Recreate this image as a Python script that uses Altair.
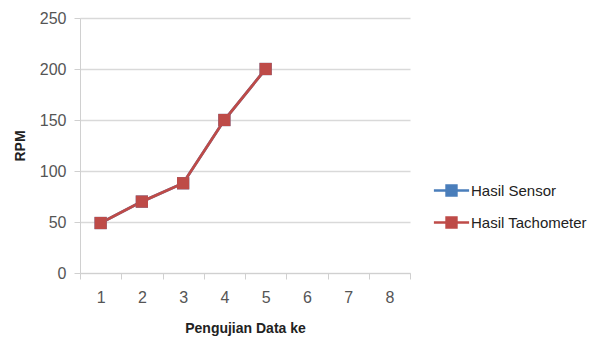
import altair as alt
import pandas as pd

categories = [1, 2, 3, 4, 5, 6, 7, 8]
sensor = [49, 70, 88, 150, 200]
tacho = [49, 70, 88, 150, 200]
series_names = ["Hasil Sensor", "Hasil Tachometer"]
colors = ["#4A7EBB", "#BE4B48"]

rows = []
for name, vals in zip(series_names, [sensor, tacho]):
    for c, v in zip(categories, vals):
        rows.append({"Data": str(c), "RPM": v, "Seri": name})
df = pd.DataFrame(rows)

FONT = "Liberation Sans"

x = alt.X("Data:O", sort=[str(c) for c in categories],
          scale=alt.Scale(type="band", domain=[str(c) for c in categories],
                          paddingInner=0, paddingOuter=0),
          bandPosition=0.5,
          axis=alt.Axis(title="Pengujian Data ke", labelAngle=0, tickBand="extent",
                        grid=False, domainColor="#d0d0d0", tickColor="#d0d0d0",
                        tickSize=6, labelPadding=10, titlePadding=16))
y = alt.Y("RPM:Q", scale=alt.Scale(domain=[0, 250], nice=False),
          axis=alt.Axis(title="RPM", values=[0, 50, 100, 150, 200, 250],
                        gridColor="#d9d9d9", gridWidth=1.6, domainColor="#d0d0d0",
                        tickColor="#d0d0d0", tickSize=6, labelPadding=8, titlePadding=12))
color = alt.Color("Seri:N", scale=alt.Scale(domain=series_names, range=colors),
                  legend=alt.Legend(title=None, orient="none", legendX=359, legendY=160,
                                    symbolType="M-1.6,0L1.6,0M-0.45,-0.45L0.45,-0.45L0.45,0.45L-0.45,0.45Z",
                                    symbolSize=484, symbolStrokeWidth=2.5, rowPadding=9,
                                    labelFontSize=15, labelFont=FONT, labelColor="#222222",
                                    labelOffset=7))

base = alt.Chart(df)
line = base.mark_line(strokeWidth=2.8).encode(x=x, y=y, color=color, order="Data:O")
pts = base.mark_point(shape="square", filled=True, size=150, opacity=1).encode(
    x=x, y=y, color=color,
    fill=alt.Fill("Seri:N", scale=alt.Scale(domain=series_names, range=colors), legend=None))

chart = alt.layer(line, pts).properties(
    width=330, height=255,
    autosize=alt.AutoSizeParams(type="none"),
    padding={"left": 80, "top": 18, "right": 196, "bottom": 81},
    background="white",
).configure_view(stroke=None).configure_axis(
    labelFont=FONT, labelFontSize=16, labelColor="#555555",
    titleFont=FONT, titleFontSize=14, titleFontWeight="bold", titleColor="#222222",
)

chart.save("out.html", embed_options={"renderer": "svg", "actions": False})
